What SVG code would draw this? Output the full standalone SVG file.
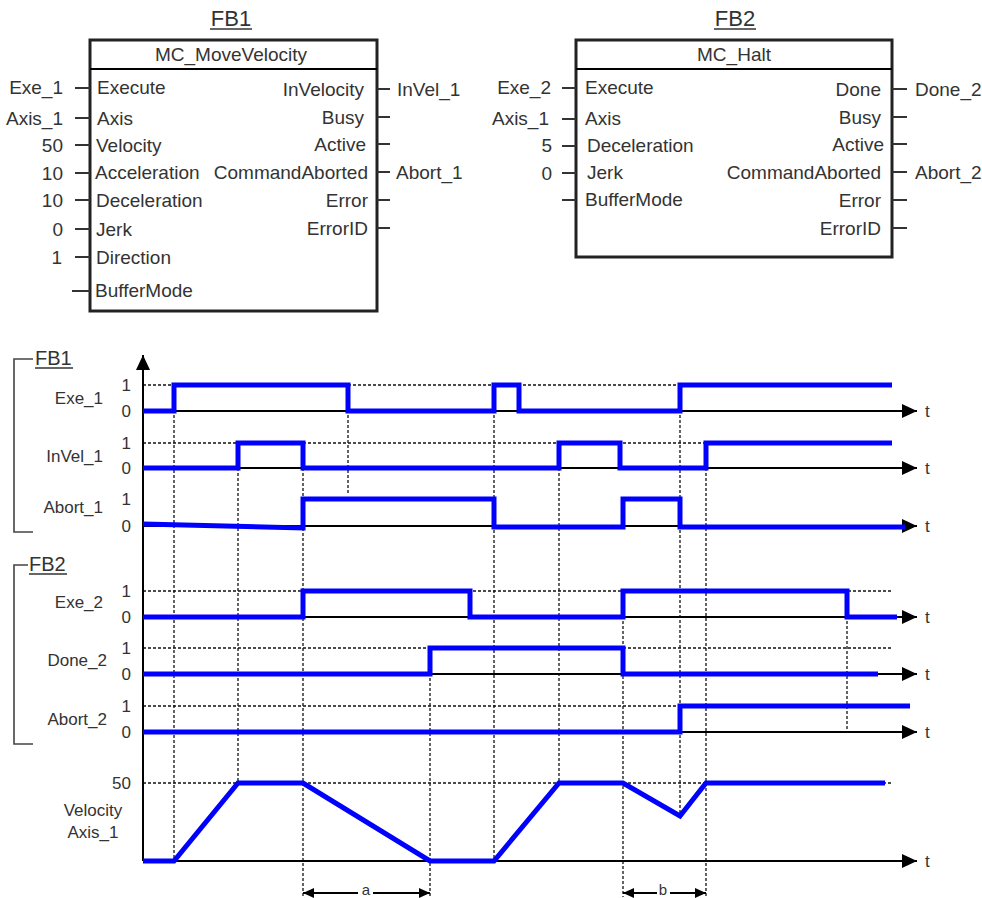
<svg xmlns="http://www.w3.org/2000/svg" width="982" height="898" viewBox="0 0 982 898">
<defs>
<style>
.t{font-family:"Liberation Sans",Arial,sans-serif;fill:#333}
.b{font-size:19px}
.s{font-size:17px}
.e{text-anchor:end}
.m{text-anchor:middle}
.pin{stroke:#333;stroke-width:2}
.box{fill:#fff;stroke:#222;stroke-width:3}
.ax{stroke:#000;stroke-width:2;fill:none}
.dash{stroke:#111;stroke-width:1.3;stroke-dasharray:3 2;fill:none}
.sig{fill:none;stroke:#0000ff;stroke-width:5;stroke-linejoin:miter}
.br{fill:none;stroke:#444;stroke-width:1.6}
.ul{stroke:#333;stroke-width:1.5}
</style>
<marker id="arr" markerUnits="userSpaceOnUse" markerWidth="16" markerHeight="14" refX="15" refY="7" orient="auto"><path d="M0,0 L15,7 L0,14 z" fill="#000"/></marker>
<marker id="sa" markerUnits="userSpaceOnUse" markerWidth="12" markerHeight="10" refX="11" refY="5" orient="auto-start-reverse"><path d="M0,0 L11,5 L0,10 z" fill="#000"/></marker>
</defs>
<rect width="982" height="898" fill="#fff"/>

<g id="fb1">
<text class="t m" x="231" y="26" font-size="22">FB1</text>
<line class="ul" x1="210" y1="29" x2="252" y2="29"/>
<rect class="box" x="90" y="40" width="287" height="271"/>
<line class="ax" x1="90" y1="69" x2="377" y2="69" stroke-width="3"/>
<text class="t b m" x="231" y="61">MC_MoveVelocity</text>
<g class="pin">
<line x1="75" y1="88" x2="90" y2="88"/><line x1="75" y1="118" x2="90" y2="118"/><line x1="75" y1="145" x2="90" y2="145"/><line x1="75" y1="173" x2="90" y2="173"/><line x1="75" y1="200" x2="90" y2="200"/><line x1="75" y1="229" x2="90" y2="229"/><line x1="75" y1="257" x2="90" y2="257"/><line x1="72" y1="291" x2="90" y2="291"/>
<line x1="377" y1="89" x2="390" y2="89"/><line x1="377" y1="117" x2="390" y2="117"/><line x1="377" y1="144" x2="390" y2="144"/><line x1="377" y1="172" x2="390" y2="172"/><line x1="377" y1="200" x2="390" y2="200"/><line x1="377" y1="228" x2="390" y2="228"/>
</g>
<g class="t b">
<text class="e" x="63" y="94">Exe_1</text>
<text class="e" x="63" y="125">Axis_1</text>
<text class="e" x="63" y="152">50</text>
<text class="e" x="63" y="180">10</text>
<text class="e" x="63" y="207">10</text>
<text class="e" x="63" y="236">0</text>
<text class="e" x="62" y="264">1</text>
<text x="97" y="94">Execute</text>
<text x="97" y="125">Axis</text>
<text x="96" y="152">Velocity</text>
<text x="95" y="179">Acceleration</text>
<text x="96" y="207">Deceleration</text>
<text x="96" y="236">Jerk</text>
<text x="96" y="264">Direction</text>
<text x="95" y="297">BufferMode</text>
<text class="e" x="364" y="96">InVelocity</text>
<text class="e" x="364" y="124">Busy</text>
<text class="e" x="366" y="151">Active</text>
<text class="e" x="368" y="179">CommandAborted</text>
<text class="e" x="368" y="207">Error</text>
<text class="e" x="368" y="235">ErrorID</text>
<text x="397" y="96">InVel_1</text>
<text x="396" y="179">Abort_1</text>
</g>
</g>

<g id="fb2">
<text class="t m" x="735" y="26" font-size="22">FB2</text>
<line class="ul" x1="714" y1="29" x2="756" y2="29"/>
<rect class="box" x="576" y="40" width="316" height="217"/>
<line class="ax" x1="576" y1="69" x2="892" y2="69" stroke-width="3"/>
<text class="t b m" x="734" y="61">MC_Halt</text>
<g class="pin">
<line x1="562" y1="88" x2="576" y2="88"/><line x1="562" y1="119" x2="576" y2="119"/><line x1="562" y1="146" x2="576" y2="146"/><line x1="562" y1="173" x2="576" y2="173"/><line x1="562" y1="200" x2="576" y2="200"/>
<line x1="892" y1="89" x2="907" y2="89"/><line x1="892" y1="117" x2="907" y2="117"/><line x1="892" y1="144" x2="907" y2="144"/><line x1="892" y1="172" x2="907" y2="172"/><line x1="892" y1="200" x2="907" y2="200"/><line x1="892" y1="228" x2="907" y2="228"/>
</g>
<g class="t b">
<text class="e" x="551" y="94">Exe_2</text>
<text class="e" x="549" y="125">Axis_1</text>
<text class="e" x="552" y="152">5</text>
<text class="e" x="552" y="180">0</text>
<text x="585" y="94">Execute</text>
<text x="585" y="125">Axis</text>
<text x="587" y="152">Deceleration</text>
<text x="587" y="179">Jerk</text>
<text x="585" y="206">BufferMode</text>
<text class="e" x="881" y="96">Done</text>
<text class="e" x="881" y="124">Busy</text>
<text class="e" x="884" y="151">Active</text>
<text class="e" x="881" y="179">CommandAborted</text>
<text class="e" x="881" y="207">Error</text>
<text class="e" x="881" y="235">ErrorID</text>
<text x="915" y="96">Done_2</text>
<text x="915" y="179">Abort_2</text>
</g>
</g>

<g id="timing">
<g id="brackets">
<polyline class="br" points="33,359 14,359 14,532 33,532"/>
<text class="t" x="35" y="365" font-size="20">FB1</text>
<line class="ul" x1="35" y1="368" x2="73" y2="368"/>
<polyline class="br" points="28,565 14,565 14,744 33,744"/>
<text class="t" x="29" y="571" font-size="20">FB2</text>
<line class="ul" x1="29" y1="574" x2="67" y2="574"/>
</g>
<g id="labels" class="t s">
<text class="e" x="103" y="404">Exe_1</text>
<text class="e" x="103" y="462">InVel_1</text>
<text class="e" x="103" y="513">Abort_1</text>
<text class="e" x="103" y="608">Exe_2</text>
<text class="e" x="107" y="666">Done_2</text>
<text class="e" x="107" y="725">Abort_2</text>
<text class="m" x="93" y="816">Velocity</text>
<text class="m" x="93" y="838">Axis_1</text>
<text class="e" x="131" y="789">50</text>
<text class="e" x="131" y="391">1</text><text class="e" x="131" y="417">0</text>
<text class="e" x="131" y="449">1</text><text class="e" x="131" y="474">0</text>
<text class="e" x="131" y="505">1</text><text class="e" x="131" y="532">0</text>
<text class="e" x="131" y="597">1</text><text class="e" x="131" y="623">0</text>
<text class="e" x="131" y="654">1</text><text class="e" x="131" y="680">0</text>
<text class="e" x="131" y="712">1</text><text class="e" x="131" y="738">0</text>
<text x="925" y="417">t</text>
<text x="925" y="474">t</text>
<text x="925" y="532">t</text>
<text x="925" y="623">t</text>
<text x="925" y="680">t</text>
<text x="925" y="738">t</text>
<text x="925" y="867">t</text>
</g>
<g id="grid" class="dash">
<line x1="143" y1="385" x2="680" y2="385"/>
<line x1="143" y1="443" x2="706" y2="443"/>
<line x1="143" y1="591" x2="893" y2="591"/>
<line x1="143" y1="648" x2="893" y2="648"/>
<line x1="143" y1="706" x2="680" y2="706"/>
<line x1="143" y1="783" x2="893" y2="783"/>
<line x1="174" y1="385" x2="174" y2="861"/>
<line x1="238" y1="443" x2="238" y2="783"/>
<line x1="303" y1="443" x2="303" y2="897"/>
<line x1="348" y1="385" x2="348" y2="495"/>
<line x1="430" y1="648" x2="430" y2="897"/>
<line x1="494" y1="385" x2="494" y2="861"/>
<line x1="559" y1="443" x2="559" y2="783"/>
<line x1="623" y1="591" x2="623" y2="897"/>
<line x1="680" y1="385" x2="680" y2="816"/>
<line x1="706" y1="443" x2="706" y2="897"/>
<line x1="847" y1="591" x2="847" y2="732"/>
</g>
<g id="axes" class="ax">
<line x1="143" y1="861" x2="143" y2="355" marker-end="url(#arr)"/>
<line x1="143" y1="411" x2="917" y2="411" marker-end="url(#arr)"/>
<line x1="143" y1="468" x2="917" y2="468" marker-end="url(#arr)"/>
<line x1="143" y1="526" x2="917" y2="526" marker-end="url(#arr)"/>
<line x1="143" y1="617" x2="917" y2="617" marker-end="url(#arr)"/>
<line x1="143" y1="674" x2="917" y2="674" marker-end="url(#arr)"/>
<line x1="143" y1="732" x2="917" y2="732" marker-end="url(#arr)"/>
<line x1="143" y1="861" x2="917" y2="861" marker-end="url(#arr)"/>
</g>
<g id="signals" class="sig">
<polyline points="143,411 174,411 174,385 348,385 348,411 494,411 494,385 519,385 519,411 680,411 680,385 892,385"/>
<polyline points="143,468 238,468 238,443 303,443 303,468 559,468 559,443 620,443 620,468 706,468 706,443 892,443"/>
<polyline points="143,524 303,528 303,499 494,499 494,527 623,527 623,499 680,499 680,527 905,527"/>
<polyline points="143,617 303,617 303,591 470,591 470,617 623,617 623,591 847,591 847,617 897,617"/>
<polyline points="143,674 430,674 430,648 623,648 623,674 878,674"/>
<polyline points="143,732 680,732 680,706 910,706"/>
<polyline points="143,861 174,861 238,783 303,783 430,861 494,861 559,783 623,783 680,816 706,783 885,783"/>
</g>
<g id="dims">
<line class="ax" x1="303" y1="893" x2="358" y2="893" stroke-width="1.5" marker-start="url(#sa)"/>
<line class="ax" x1="373" y1="893" x2="430" y2="893" stroke-width="1.5" marker-end="url(#sa)"/>
<text class="t m" x="366" y="895" font-size="15">a</text>
<line class="ax" x1="623" y1="893" x2="657" y2="893" stroke-width="1.5" marker-start="url(#sa)"/>
<line class="ax" x1="670" y1="893" x2="706" y2="893" stroke-width="1.5" marker-end="url(#sa)"/>
<text class="t m" x="663" y="895" font-size="15">b</text>
</g>
</g>
</svg>
